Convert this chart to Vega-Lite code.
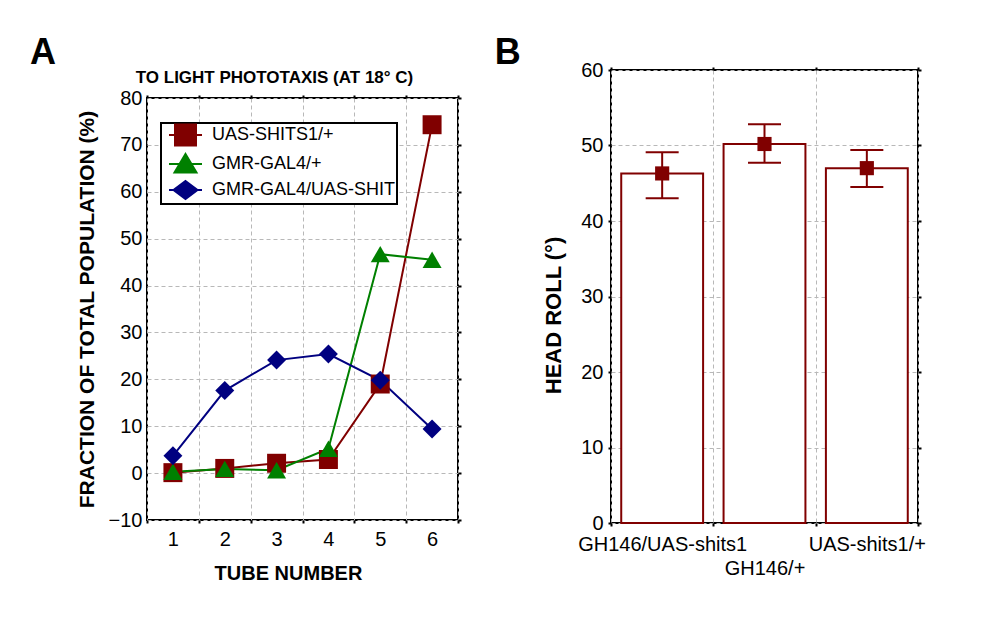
{
  "$schema": "https://vega.github.io/schema/vega-lite/v6.json",
  "background": "white",
  "padding": {"left": 30, "top": 34, "right": 20, "bottom": 10},
  "config": {
    "font": "Liberation Sans",
    "view": {"stroke": "black", "strokeWidth": 2},
    "axis": {
      "labelFont": "Liberation Sans", "labelFontSize": 20, "labelColor": "black",
      "titleFont": "Liberation Sans", "titleFontSize": 20, "titleFontWeight": "bold", "titleColor": "black",
      "gridColor": "#b8b8b8", "gridDash": [4, 3], "gridWidth": 1,
      "domain": false, "tickColor": "black", "tickWidth": 2, "tickSize": 3
    },
    "legend": {"strokeWidth": 2},
    "title": {"font": "Liberation Sans", "fontSize": 36, "fontWeight": "bold", "color": "black", "anchor": "start", "frame": "bounds", "baseline": "alphabetic"},
    "concat": {"spacing": 30}
  },
  "hconcat": [
    {
      "spacing": -4,
      "vconcat": [
        {
          "width": 311,
          "height": 1,
          "view": {"stroke": null},
          "title": {"text": "A", "dx": -117, "offset": -2},
          "data": {"values": []},
          "mark": {"type": "point"}
        },
        {
          "width": 311,
          "height": 422,
          "data": {"values": [
            {"tube": 1, "pct": 0.1, "series": "UAS-SHITS1/+"},
            {"tube": 2, "pct": 1.0, "series": "UAS-SHITS1/+"},
            {"tube": 3, "pct": 2.1, "series": "UAS-SHITS1/+"},
            {"tube": 4, "pct": 2.9, "series": "UAS-SHITS1/+"},
            {"tube": 5, "pct": 19.0, "series": "UAS-SHITS1/+"},
            {"tube": 6, "pct": 74.3, "series": "UAS-SHITS1/+"},
            {"tube": 1, "pct": 0.3, "series": "GMR-GAL4/+"},
            {"tube": 2, "pct": 0.9, "series": "GMR-GAL4/+"},
            {"tube": 3, "pct": 0.6, "series": "GMR-GAL4/+"},
            {"tube": 4, "pct": 5.2, "series": "GMR-GAL4/+"},
            {"tube": 5, "pct": 46.7, "series": "GMR-GAL4/+"},
            {"tube": 6, "pct": 45.5, "series": "GMR-GAL4/+"},
            {"tube": 1, "pct": 3.7, "series": "GMR-GAL4/UAS-SHIT"},
            {"tube": 2, "pct": 17.6, "series": "GMR-GAL4/UAS-SHIT"},
            {"tube": 3, "pct": 24.1, "series": "GMR-GAL4/UAS-SHIT"},
            {"tube": 4, "pct": 25.4, "series": "GMR-GAL4/UAS-SHIT"},
            {"tube": 5, "pct": 19.8, "series": "GMR-GAL4/UAS-SHIT"},
            {"tube": 6, "pct": 9.4, "series": "GMR-GAL4/UAS-SHIT"}
          ]},
          "layer": [
            {
              "mark": {"type": "line", "strokeWidth": 2},
              "encoding": {
                "x": {"field": "tube", "type": "ordinal",
                  "scale": {"type": "band", "paddingInner": 0, "paddingOuter": 0},
                  "axis": {"orient": "bottom", "title": "TUBE NUMBER", "titleX": 141, "labelAngle": 0, "tickBand": "extent", "grid": true, "ticks": true, "labelPadding": 6, "titlePadding": 14}},
                "y": {"field": "pct", "type": "quantitative",
                  "scale": {"domain": [-10, 80], "nice": false, "zero": false},
                  "axis": {"orient": "left", "values": [-10, 0, 10, 20, 30, 40, 50, 60, 70, 80], "title": "FRACTION OF TOTAL POPULATION (%)", "titleFontSize": 21, "grid": true, "ticks": false, "labelPadding": 5, "titlePadding": 11}},
                "color": {"field": "series", "type": "nominal",
                  "scale": {"domain": ["UAS-SHITS1/+", "GMR-GAL4/+", "GMR-GAL4/UAS-SHIT"], "range": ["#800000", "#008000", "#000080"]},
                  "legend": null}
              }
            },
            {
              "mark": {"type": "point", "filled": true, "opacity": 1, "size": 360},
              "encoding": {
                "x": {"field": "tube", "type": "ordinal",
                  "axis": {"orient": "top", "labels": false, "ticks": true, "tickBand": "extent", "grid": false, "title": "TO LIGHT PHOTOTAXIS (AT 18° C)", "titleFontSize": 17, "titlePadding": 8, "titleX": 127}},
                "y": {"field": "pct", "type": "quantitative",
                  "axis": {"orient": "right", "labels": false, "ticks": true, "grid": false, "title": null, "values": [-10, 0, 10, 20, 30, 40, 50, 60, 70, 80]}},
                "color": {"field": "series", "type": "nominal", "legend": null},
                "shape": {"field": "series", "type": "nominal",
                  "scale": {"domain": ["UAS-SHITS1/+", "GMR-GAL4/+", "GMR-GAL4/UAS-SHIT"], "range": ["square", "triangle-up", "diamond"]},
                  "legend": null}
              }
            },
            {
              "transform": [{"filter": "datum.tube > 100"}],
              "mark": {"type": "point", "filled": true, "opacity": 1},
              "encoding": {
                "x": {"field": "tube", "type": "ordinal", "axis": null},
                "y": {"field": "pct", "type": "quantitative", "axis": null},
                "fill": {"field": "series", "type": "nominal",
                  "scale": {"domain": ["UAS-SHITS1/+", "GMR-GAL4/+", "GMR-GAL4/UAS-SHIT"], "range": ["#800000", "#008000", "#000080"]},
                  "legend": {"title": null, "orient": "none", "legendX": 14, "legendY": 25, "strokeColor": "black", "fillColor": "white", "padding": 1, "symbolSize": 400, "symbolStrokeWidth": 2, "labelFontSize": 18, "labelFont": "Liberation Sans", "labelColor": "black", "labelOffset": 27, "rowPadding": 0, "labelLimit": 186}},
                "stroke": {"field": "series", "type": "nominal",
                  "scale": {"domain": ["UAS-SHITS1/+", "GMR-GAL4/+", "GMR-GAL4/UAS-SHIT"], "range": ["#800000", "#008000", "#000080"]},
                  "legend": {"title": null, "orient": "none", "legendX": 14, "legendY": 25, "strokeColor": "black", "fillColor": "white", "padding": 1, "symbolSize": 400, "symbolStrokeWidth": 2, "labelFontSize": 18, "labelFont": "Liberation Sans", "labelColor": "black", "labelOffset": 27, "rowPadding": 0, "labelLimit": 186}},
                "shape": {"field": "series", "type": "nominal",
                  "scale": {"domain": ["UAS-SHITS1/+", "GMR-GAL4/+", "GMR-GAL4/UAS-SHIT"], "range": [
                    "M-0.4,0H2.9M0.2,-1.05H2.3V1.05H0.2Z",
                    "M-0.4,0H2.9M1.25,-1.0L2.35,0.85H0.15Z",
                    "M-0.4,0H2.9M1.25,-0.9L2.45,0L1.25,0.9L0.05,0Z"]},
                  "legend": {"title": null, "orient": "none", "legendX": 14, "legendY": 25, "strokeColor": "black", "fillColor": "white", "padding": 1, "symbolSize": 400, "symbolStrokeWidth": 2, "labelFontSize": 18, "labelFont": "Liberation Sans", "labelColor": "black", "labelOffset": 28, "rowPadding": 0, "labelLimit": 186}}
              }
            }
          ],
          "resolve": {
            "axis": {"x": "independent", "y": "independent"},
            "scale": {"shape": "independent", "fill": "independent", "stroke": "independent"}
          }
        }
      ]
    },
    {
      "width": 307,
      "height": 453,
      "title": {"text": "B", "dx": -48, "offset": -12},
      "data": {"values": [
        {"genotype": "GH146/UAS-shits1", "mean": 46.3, "lo": 43.0, "hi": 49.1},
        {"genotype": "GH146/+", "mean": 50.2, "lo": 47.7, "hi": 52.8},
        {"genotype": "UAS-shits1/+", "mean": 47.0, "lo": 44.5, "hi": 49.4}
      ]},
      "layer": [
        {
          "mark": {"type": "bar", "fill": "white", "stroke": "#800000", "strokeWidth": 2, "width": {"band": 0.8}},
          "encoding": {
            "x": {"field": "genotype", "type": "nominal", "sort": null,
              "scale": {"type": "band", "paddingInner": 0, "paddingOuter": 0},
              "axis": {"orient": "bottom", "title": null, "labelAngle": 0, "tickBand": "extent", "grid": true, "ticks": true, "labelOverlap": false,
                "labelPadding": {"condition": {"test": "datum.value == 'GH146/+'", "value": 32}, "value": 8}}},
            "y": {"field": "mean", "type": "quantitative",
              "scale": {"domain": [0, 60], "nice": false},
              "axis": {"orient": "left", "values": [0, 10, 20, 30, 40, 50, 60], "title": "HEAD ROLL (°)", "titleFontSize": 22, "titleY": 245, "grid": true, "ticks": true, "labelPadding": 5, "titlePadding": 15}}
          }
        },
        {
          "mark": {"type": "rule", "color": "#800000", "strokeWidth": 2},
          "encoding": {
            "x": {"field": "genotype", "type": "nominal", "sort": null,
              "axis": {"orient": "top", "labels": false, "ticks": true, "tickBand": "extent", "grid": false, "title": null}},
            "y": {"field": "lo", "type": "quantitative",
              "axis": {"orient": "right", "labels": false, "ticks": true, "grid": false, "title": null, "values": [0, 10, 20, 30, 40, 50, 60]}},
            "y2": {"field": "hi"}
          }
        },
        {
          "mark": {"type": "tick", "color": "#800000", "thickness": 2, "size": 33, "opacity": 1},
          "encoding": {
            "x": {"field": "genotype", "type": "nominal", "sort": null, "axis": null},
            "y": {"field": "hi", "type": "quantitative", "axis": null}
          }
        },
        {
          "mark": {"type": "tick", "color": "#800000", "thickness": 2, "size": 33, "opacity": 1},
          "encoding": {
            "x": {"field": "genotype", "type": "nominal", "sort": null, "axis": null},
            "y": {"field": "lo", "type": "quantitative", "axis": null}
          }
        },
        {
          "mark": {"type": "square", "filled": true, "size": 200, "color": "#800000", "opacity": 1},
          "encoding": {
            "x": {"field": "genotype", "type": "nominal", "sort": null, "axis": null},
            "y": {"field": "mean", "type": "quantitative", "axis": null}
          }
        }
      ],
      "resolve": {"axis": {"x": "independent", "y": "independent"}}
    }
  ]
}
